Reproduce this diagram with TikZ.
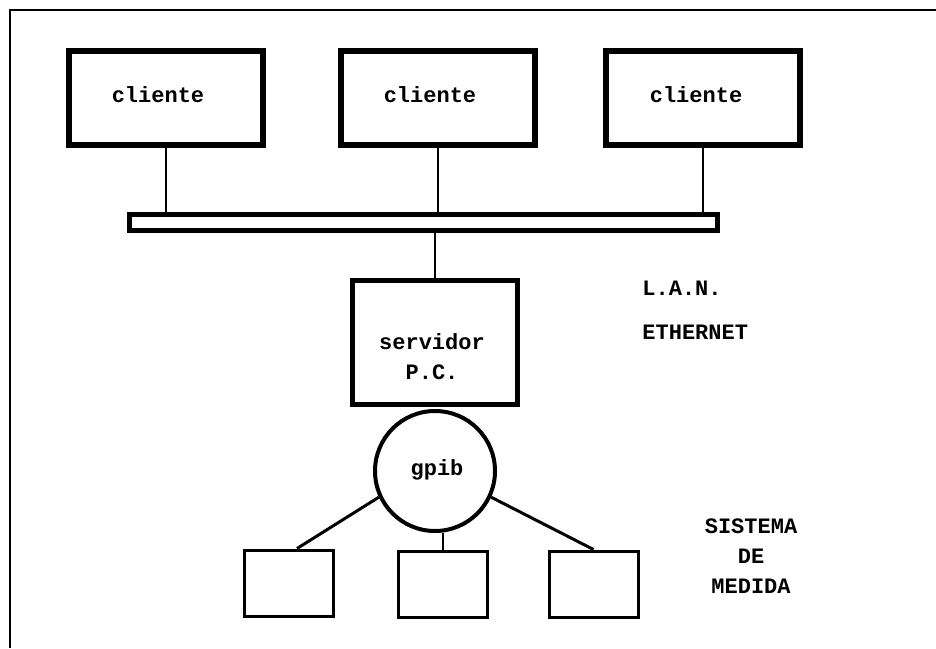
\documentclass[tikz,border=0pt]{standalone}
\usepackage{fontspec}
\setmonofont{Liberation Mono}
\begin{document}
\begin{tikzpicture}[x=0.5pt,y=-0.5pt,
  lbl/.style={font=\ttfamily\bfseries\fontsize{11}{15}\selectfont, inner sep=0pt},
  client/.style={draw, line width=3pt, minimum width=97pt, minimum height=47pt, inner sep=0pt},
  busbox/.style={draw, line width=2.5pt, minimum width=294pt, minimum height=8pt, inner sep=0pt},
  srvbox/.style={draw, line width=2.5pt, minimum width=82.5pt, minimum height=62pt, inner sep=0pt},
  gpibc/.style={draw, circle, line width=2pt, minimum size=60pt, inner sep=0pt},
  meas/.style={draw, line width=1.5pt, minimum width=44.5pt, minimum height=33pt, inner sep=0pt},
  thin/.style={line width=1pt},
  mid/.style={line width=1.5pt},
  frameline/.style={line width=1.2pt}]
\useasboundingbox (0,0) rectangle (936,648);
% frame
\coordinate (ftl) at (10,10);
\coordinate (ftr) at (936,10);
\coordinate (fbl) at (10,648);
\draw[frameline] (ftr) -- (ftl) -- (fbl);
% clients
\node[client] (c1) at (166,98) {};
\node[client] (c2) at (438,98) {};
\node[client] (c3) at (703,98) {};
\node[lbl] (t1) at (158,95) {cliente};
\node[lbl] (t2) at (430,95) {cliente};
\node[lbl] (t3) at (696,95) {cliente};
% bus
\node[busbox] (bus) at (423.5,222.5) {};
\draw[thin] (c1.south) -- (c1.south |- bus.north);
\draw[thin] (c2.south) -- (c2.south |- bus.north);
\draw[thin] (c3.south) -- (c3.south |- bus.north);
% server
\node[srvbox] (srv) at (435,342.5) {};
\node[lbl, align=center] (srvt) at (432,357) {servidor\\P.C.};
\draw[thin] (srv.north |- bus.south) -- (srv.north);
% gpib
\node[gpibc] (g) at (435,471) {};
\node[lbl] (gt) at (437,470) {gpib};
% measurement boxes
\node[meas] (b1) at (289,583) {};
\node[meas] (b2) at (442.5,584) {};
\node[meas] (b3) at (593.5,584) {};
\draw[mid] (g.205) -- ([xshift=4pt]b1.north);
\draw[thin] (g.south -| b2.north) -- (b2.north);
\draw[mid] (g.-25) -- (b3.north);
% labels
\node[lbl, anchor=west] (lan) at (642,288) {L.A.N.};
\node[lbl, anchor=west] (eth) at (642,332) {ETHERNET};
\node[lbl, align=center] (sis) at (751,556) {SISTEMA\\DE\\MEDIDA};
\end{tikzpicture}
\end{document}
